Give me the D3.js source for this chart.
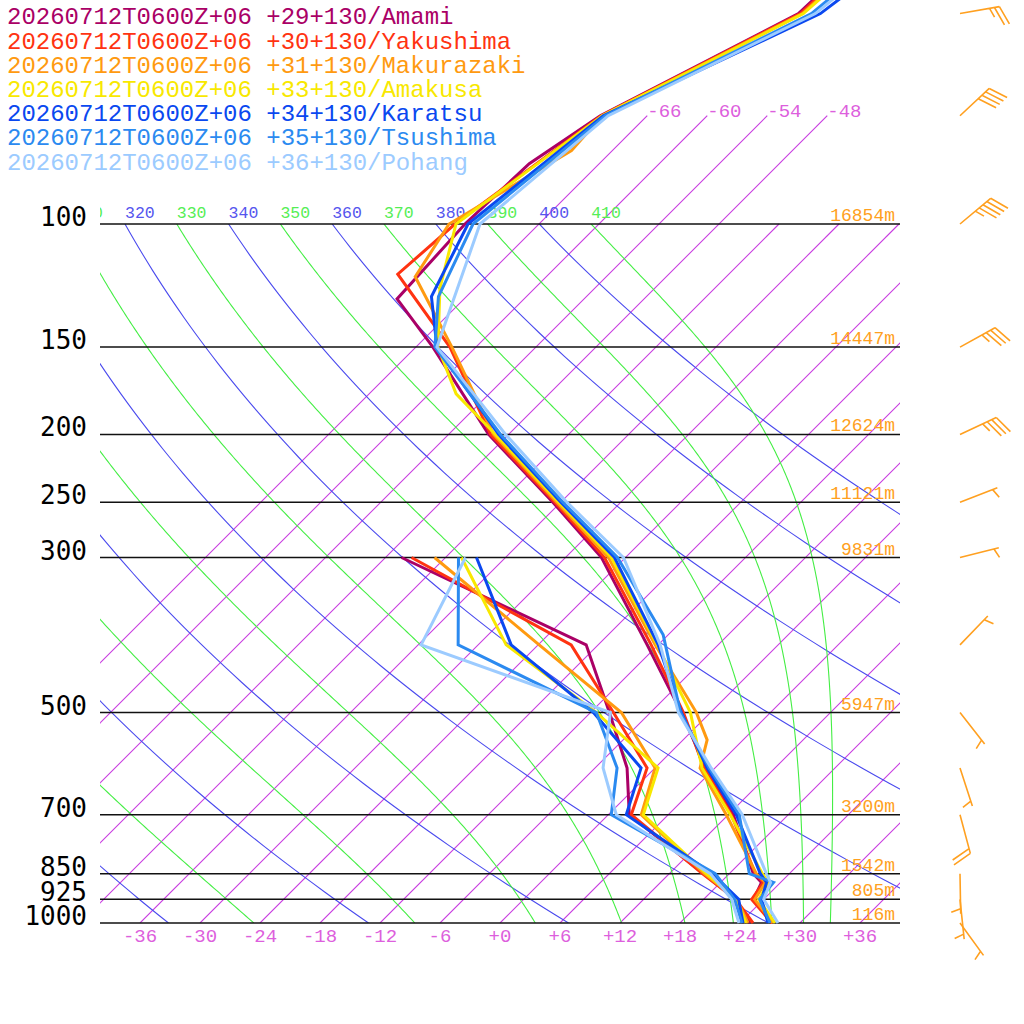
<!DOCTYPE html>
<html>
<head>
<meta charset="utf-8">
<script src="https://cdn.jsdelivr.net/npm/d3@7"></script>
<style>
html, body {margin:0; padding:0; background:#fff;}
svg {display:block;}
</style>
</head>
<body>
<svg id="chart" width="1024" height="1024"></svg>
<script>
// run / stations
var runLabel = "20260712T0600Z+06";
var stationNames = ["Amami", "Yakushima", "Makurazaki", "Amakusa", "Karatsu", "Tsushima", "Pohang"];
var stationCoords = ["+29+130", "+30+130", "+31+130", "+33+130", "+34+130", "+35+130", "+36+130"];
var stationColors = ["#aa0066", "#ff3311", "#ff9a10", "#f8e800", "#0a48f0", "#2b8af0", "#9ccbff"];

// temperature profiles, [hPa, degC]
var tAmami = [[1000,27.3],[925,23.0],[875,22.1],[850,20.4],[700,12.5],[600,5.1],[500,-2.9],[400,-13.1],[300,-26.4],[250,-36.8],[200,-50.0],[150,-64.3],[128,-72.7],[100,-73.4],[82,-73.0],[70,-70.7],[50,-61.1],[30,-60.0]];
var tYakushima = [[1000,27.2],[925,22.8],[875,22.3],[850,20.6],[700,12.3],[600,4.9],[500,-2.7],[400,-12.7],[300,-26.1],[250,-36.6],[200,-49.8],[150,-62.6],[118,-75.1],[100,-74.4],[70,-70.6],[50,-60.9],[30,-59.5]];
var tMakurazaki = [[1000,27.3],[925,23.1],[875,22.5],[850,20.7],[700,11.8],[600,4.5],[547,2.4],[500,-1.4],[400,-12.3],[300,-25.7],[250,-36.4],[200,-49.5],[150,-62.4],[119,-73.1],[100,-75.0],[78.5,-70.1],[70,-70.5],[50,-60.7],[30,-59.0]];
var tAmakusa = [[1000,27.5],[925,23.5],[875,22.8],[850,21.3],[700,12.2],[600,4.7],[500,-2.0],[400,-12.1],[300,-25.4],[250,-36.2],[200,-49.3],[175,-57.3],[150,-63.8],[123.5,-69.5],[100,-74.3],[70,-70.5],[50,-60.6],[30,-58.5]];
var tKaratsu = [[1000,26.8],[925,23.8],[875,22.6],[850,21.1],[700,12.8],[600,5.2],[500,-2.9],[400,-12.0],[300,-25.1],[250,-36.0],[200,-49.0],[150,-63.9],[127,-69.5],[100,-73.1],[70,-70.4],[50,-58.9],[30,-54.0]];
var tTsushima = [[1000,27.0],[925,23.6],[875,23.3],[850,20.0],[700,13.1],[600,5.4],[500,-3.0],[387,-12.5],[300,-24.8],[250,-35.8],[200,-48.8],[150,-64.1],[127,-68.8],[100,-72.6],[70,-70.2],[50,-59.8],[30,-56.5]];
var tPohang = [[1000,27.8],[925,24.0],[875,23.0],[850,21.7],[700,13.4],[600,5.6],[500,-3.2],[400,-11.8],[300,-24.2],[250,-35.4],[200,-48.3],[150,-63.9],[100,-71.9],[70,-69.9],[50,-59.4],[30,-56.0]];

// dew points
var dewLevels = [1000, 925, 850, 700, 600, 500, 400, 300];
var tdAmami = [25.0, 21.2, 15.4, 2.1, -2.8, -10.1, -19.2, -46.4];
var tdYakushima = [25.3, 21.2, 15.3, 2.3, -0.8, -9.7, -20.7, -45.4];
var tdMakurazaki = [24.8, 21.3, 15.5, 3.3, 0.0, -8.9, -23.9, -43.1];
var tdAmakusa = [24.6, 21.3, 15.7, 3.5, 0.3, -11.4, -27.2, -40.4];
var tdKaratsu = [24.3, 21.5, 16.3, 1.8, -1.4, -11.7, -26.7, -38.9];
var tdTsushima = [24.2, 21.1, 16.6, 0.3, -3.8, -11.4, -32.0, -40.7];
var tdPohang = [23.9, 20.8, 16.1, 0.8, -5.2, -10.0, -35.7, -40.0];

// isobars + heights
var isobarLevels = [100, 150, 200, 250, 300, 500, 700, 850, 925, 1000];
var isobarHeights = ["16854m", "14447m", "12624m", "11121m", "9831m", "5947m", "3200m", "1542m", "805m", "116m"];
var tempTicks = [-36, -30, -24, -18, -12, -6, 0, 6, 12, 18, 24, 30, 36];

// wind (knots, direction from)
var windLevels = [1000, 925, 850, 700, 600, 500, 400, 300, 250, 200, 150, 100, 70, 50];
var windDir = [144, 174, 179, 165, 162, 142, 44, 76, 69, 65, 61, 50, 47, 80];
var windSpeed = [5, 5, 5, 20, 5, 5, 5, 5, 5, 35, 35, 45, 40, 25];

var tempProfiles = [tAmami, tYakushima, tMakurazaki, tAmakusa, tKaratsu, tTsushima, tPohang];
var dewProfiles = [tdAmami, tdYakushima, tdMakurazaki, tdAmakusa, tdKaratsu, tdTsushima, tdPohang];

var orange = "#ffa020";
var monoFont = "'Liberation Mono', 'DejaVu Sans Mono', monospace";

var svg = d3.select("#chart");
svg.append("rect").attr("width", 1024).attr("height", 1024).attr("fill", "#fff");

//坐标
var y = d3.scaleLog().domain([1000, 100]).range([923, 224]);
var x = d3.scaleLinear().domain([-40, 40]).range([100, 900]);
function skewX(t, p) { return x(t) + (y(1000) - y(p)); }
var line = d3.line().x(function (d) { return skewX(d[1], d[0]); }).y(function (d) { return y(d[0]); });

var defs = svg.append("defs");
defs.append("clipPath").attr("id", "plotClip").append("rect").attr("x", 100).attr("y", 224).attr("width", 800).attr("height", 699);
defs.append("clipPath").attr("id", "upClip").append("rect").attr("x", 100).attr("y", 0).attr("width", 800).attr("height", 923);

var ps = d3.range(0, 91).map(function (i) { return 1000 * Math.pow(0.1, i / 90); });

//等温线
var gIso = svg.append("g").attr("clip-path", "url(#upClip)");
d3.range(-66, 37, 6).forEach(function (t) {
    var top = t <= -48 ? 70 : 100;
    gIso.append("path").attr("d", line([[1000, t], [top, t]]))
        .attr("fill", "none").attr("stroke", "#c83ce0").attr("stroke-width", 1.1);
});

//干绝热线
var gDry = svg.append("g").attr("clip-path", "url(#plotClip)");
var dryThetas = d3.range(200, 401, 20);
dryThetas.forEach(function (th) {
    var pts = ps.map(function (p) { return [p, th * Math.pow(p / 1000, 0.2857) - 273.15]; });
    gDry.append("path").attr("d", line(pts)).attr("fill", "none").attr("stroke", "#4a4aee").attr("stroke-width", 1.1);
});

//湿绝热线
function dTdlnp(T, p) {
    var tc = T - 273.15;
    var es = 6.112 * Math.exp(17.67 * tc / (tc + 243.5));
    var rs = 0.622 * es / (p - es);
    var Rd = 287.04, cp = 1005.7, Lv = 2.501e6;
    return (Rd * T + Lv * rs) / (cp + Lv * Lv * rs * 0.622 / (Rd * T * T));
}
function moistLine(thetaE) {
    var T = thetaE * Math.pow(0.1, 0.2857);
    var lnp = Math.log(100), n = 300, h = (Math.log(1000) - lnp) / n;
    var pts = [[100, T - 273.15]];
    for (var i = 0; i < n; i++) {
        var k1 = dTdlnp(T, Math.exp(lnp));
        var k2 = dTdlnp(T + h * k1 / 2, Math.exp(lnp + h / 2));
        T += h * k2;
        lnp += h;
        pts.push([Math.exp(lnp), T - 273.15]);
    }
    return pts;
}
var moistThetas = d3.range(250, 411, 20);
var gMoist = svg.append("g").attr("clip-path", "url(#plotClip)");
moistThetas.forEach(function (th) {
    gMoist.append("path").attr("d", line(moistLine(th))).attr("fill", "none").attr("stroke", "#44ee44").attr("stroke-width", 1.1);
});

//等压线
var gBar = svg.append("g");
isobarLevels.forEach(function (p, i) {
    gBar.append("line").attr("x1", 100).attr("x2", 900).attr("y1", y(p)).attr("y2", y(p))
        .attr("stroke", "#111").attr("stroke-width", 1.5);
    gBar.append("text").attr("x", 87).attr("y", y(p) + 2).attr("text-anchor", "end")
        .attr("font-family", "'DejaVu Sans Mono', monospace").attr("font-size", 26).attr("fill", "#000").text(p);
    gBar.append("text").attr("x", 895).attr("y", y(p) - 3).attr("text-anchor", "end")
        .attr("font-family", monoFont).attr("font-size", 18).attr("fill", orange).text(isobarHeights[i]);
});

//位温标签 (只画落在图内的)
var gTh = svg.append("g").attr("clip-path", "url(#upClip)");
function thetaLabel(th, color) {
    var t = th * Math.pow(0.1, 0.2857) - 273.15;
    var lx = skewX(t, 100);
    if (lx < 70) return;
    gTh.append("text").attr("x", lx).attr("y", 218).attr("font-family", monoFont)
        .attr("font-size", 16.5).attr("fill", color).text(th);
}
dryThetas.forEach(function (th) { thetaLabel(th, "#5555ee"); });
moistThetas.forEach(function (th) { thetaLabel(th, "#55ee55"); });

//温度标签
tempTicks.forEach(function (t) {
    svg.append("text").attr("x", x(t)).attr("y", 942).attr("text-anchor", "middle")
        .attr("font-family", monoFont).attr("font-size", 19).attr("fill", "#dd5fdd")
        .text(t >= 0 ? "+" + t : String(t));
});
d3.range(-66, -47, 6).forEach(function (t) {
    svg.append("text").attr("x", skewX(t, 70)).attr("y", y(70) + 1)
        .attr("font-family", monoFont).attr("font-size", 19).attr("fill", "#dd5fdd").text(String(t));
});

//廓线
var gProf = svg.append("g").attr("fill", "none").attr("stroke-width", 3).attr("stroke-linejoin", "miter");
stationNames.forEach(function (name, i) {
    gProf.append("path").attr("d", line(tempProfiles[i])).attr("stroke", stationColors[i]);
    var dew = dewLevels.map(function (p, j) { return [p, dewProfiles[i][j]]; });
    gProf.append("path").attr("d", line(dew)).attr("stroke", stationColors[i]);
});

//图例
stationNames.forEach(function (name, i) {
    svg.append("text").attr("x", 7).attr("y", 24.3 + i * 24.2)
        .attr("font-family", monoFont).attr("font-size", 24).attr("fill", stationColors[i])
        .text(runLabel + " " + stationCoords[i] + "/" + name);
});

//风羽
var gWind = svg.append("g").attr("stroke", orange).attr("stroke-width", 1.6).attr("fill", "none");
function drawBarb(x0, y0, dir, spd) {
    var r = dir * Math.PI / 180;
    var ux = Math.sin(r), uy = -Math.cos(r);
    var L = 40, step = 5, fl = 20;
    var a = 70 * Math.PI / 180;
    var fx = ux * Math.cos(a) - uy * Math.sin(a), fy = ux * Math.sin(a) + uy * Math.cos(a);
    var d = "M" + x0 + "," + y0 + "L" + (x0 + L * ux) + "," + (y0 + L * uy);
    var full = Math.floor(spd / 10), half = (spd % 10) >= 5 ? 1 : 0;
    var pos = L;
    for (var k = 0; k < full; k++) {
        var bx = x0 + pos * ux, by = y0 + pos * uy;
        d += "M" + bx + "," + by + "L" + (bx + fl * fx) + "," + (by + fl * fy);
        pos -= step;
    }
    if (half) {
        if (full === 0) pos = L - step;
        var hx = x0 + pos * ux, hy = y0 + pos * uy;
        d += "M" + hx + "," + hy + "L" + (hx + fl / 2 * fx) + "," + (hy + fl / 2 * fy);
    }
    gWind.append("path").attr("d", d);
}
windLevels.forEach(function (p, i) {
    drawBarb(960, y(p), windDir[i], windSpeed[i]);
});
</script>
</body>
</html>
